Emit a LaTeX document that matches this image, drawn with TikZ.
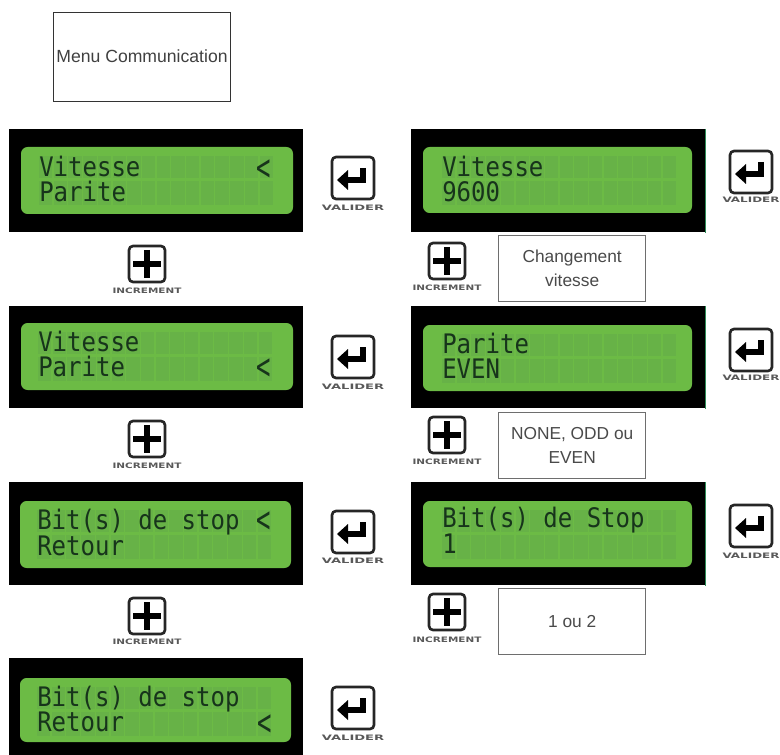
\documentclass[tikz,border=0pt]{standalone}
\usepackage{fontspec}
\setmainfont{Liberation Sans}
\newfontfamily\lcdfont{DejaVu Sans Mono}
\newfontfamily\btnfont{DejaVu Sans}
\definecolor{lcdgreen}{HTML}{6CBB45}
\definecolor{cellgreen}{HTML}{67B247}
\definecolor{lcdink}{HTML}{17341B}
\definecolor{boxgray}{HTML}{6E6E6E}
\definecolor{txtgray}{HTML}{4A4A4A}
\definecolor{edgegreen}{HTML}{2E8B57}
\tikzset{
  px/.style={x=0.75pt,y=-0.75pt},
  lcdframe/.style={fill=black,draw=none,inner sep=0pt,anchor=north west},
  lcdpanel/.style={fill=lcdgreen,draw=none,rounded corners=5pt},
  lcdtext/.style={font=\lcdfont\fontsize{18}{18}\selectfont,text=lcdink,anchor=base west,inner sep=0pt,yscale=1.12,transform shape},
  lcdcursor/.style={font=\lcdfont\fontsize{18}{18}\selectfont,text=lcdink,anchor=base west,inner sep=0pt,yscale=1.55,transform shape},
  btnframe/.style={draw=black!85,fill=white,line width=2pt,rounded corners=3pt,inner sep=0pt,anchor=center},
  btnlabel/.style={font=\btnfont\bfseries\fontsize{5.6}{6}\selectfont,text=black!65,inner sep=0pt,anchor=center,transform shape},
  notebox/.style={draw=boxgray,fill=white,line width=1pt,inner sep=0pt,anchor=north west,align=center,font=\fontsize{13}{18}\selectfont,text=txtgray},
}
\newcommand{\lcdscreen}[9]{%
  \node[lcdframe,minimum width=294*0.75pt,minimum height=#4*0.75pt] (#1) at (#2,#3) {};
  \fill[lcdpanel] (#5,#7) rectangle (#6,#8);
  \foreach \i in {0,...,15}{
    \fill[cellgreen] ({#9+\i*14.7},{#7+9}) rectangle ({#9+\i*14.7+13.4},{#7+31});
    \fill[cellgreen] ({#9+\i*14.7},{#7+34}) rectangle ({#9+\i*14.7+13.4},{#7+58});
  }
}
\newcommand{\lcdlines}[7]{%
  \node[lcdtext] (#1a) at (#2,#3) {#5};
  \node[lcdtext] (#1b) at (#2,#4) {#6};
  \if\relax\detokenize{#7}\relax\else
    \node[lcdcursor] (#1c) at (#7) {<};
  \fi
}
\newcommand{\validerbtn}[5][1.75]{%
  \node[btnframe,minimum size=42*0.75pt] (#2) at (#3,#4) {};
  \draw[black,line width=4.6pt,line join=miter] ({#3+10},{#4-10}) -- ({#3+10},{#4+2}) -- ({#3-7},{#4+2});
  \fill[black] ({#3-16},{#4+2}) -- ({#3-5},{#4-8}) -- ({#3-5},{#4+12}) -- cycle;
  \node[btnlabel,xscale=#1] (#2t) at (#3,#5) {VALIDER};
}
\newcommand{\incrementbtn}[4]{%
  \node[btnframe,minimum size=36*0.75pt] (#1) at (#2,#3) {};
  \draw[black,line width=4.6pt] ({#2-14},#3) -- ({#2+14},#3) ({#2},{#3-14}) -- ({#2},{#3+14});
  \node[btnlabel,xscale=1.4] (#1t) at (#2,#4) {INCREMENT};
}
\begin{document}
\begin{tikzpicture}[px]
\useasboundingbox (0,0) rectangle (780,755);

\node[draw=black!80,line width=0.8pt,inner sep=0pt,minimum width=177*0.75pt,minimum height=89*0.75pt,anchor=north west,font=\fontsize{13.2}{16}\selectfont,text=black!75] (menu) at (53,12) {\raisebox{1.2pt}{Menu Communication}};

% left column
\lcdscreen{sa}{9}{129}{103}{21}{293}{147}{214}{39}
\lcdlines{sa}{39}{177}{202}{Vitesse}{Parite}{256,180.5}
\lcdscreen{sb}{9}{306}{102}{21}{293}{323}{390}{38}
\lcdlines{sb}{38}{351}{376}{Vitesse}{Parite}{256,379}
\lcdscreen{sc}{9}{482}{103}{20}{291}{501}{568}{37}
\lcdlines{sc}{37}{529}{555}{Bit(s) de stop}{Retour}{256,532}
\lcdscreen{sd}{9}{658}{97}{20}{291}{678}{742}{37}
\lcdlines{sd}{37}{706}{731}{Bit(s) de stop}{Retour}{257,735}

% right column
\lcdscreen{ra}{411}{129}{103}{423}{692}{147}{213}{442}
\lcdlines{ra}{442}{177}{202}{Vitesse}{9600}{}
\lcdscreen{rb}{411}{306}{102}{423}{692}{325}{391}{442}
\lcdlines{rb}{442}{353}{378}{Parite}{EVEN}{}
\lcdscreen{rc}{411}{482}{103}{423}{692}{501}{567}{442}
\lcdlines{rc}{442}{527}{553}{Bit(s) de Stop}{1}{}
\draw[edgegreen,line width=0.6pt] (ra.north east) -- (ra.south east);
\draw[edgegreen,line width=0.6pt] (rb.north east) -- (rb.south east);
\draw[edgegreen,line width=0.6pt] (rc.north east) -- (rc.south east);

% valider buttons
\validerbtn{va}{353}{178}{208}
\validerbtn{vb}{353}{357}{387}
\validerbtn{vc}{353}{532}{561}
\validerbtn{vd}{353}{708}{738}
\validerbtn[1.6]{wa}{751}{172}{200}
\validerbtn[1.6]{wb}{751}{350}{378}
\validerbtn[1.6]{wc}{751}{526}{556}

% increment buttons
\incrementbtn{ia}{147}{264}{291}
\incrementbtn{ib}{147}{439}{466}
\incrementbtn{ic}{147}{616}{642}
\incrementbtn{ja}{447}{261}{288}
\incrementbtn{jb}{447}{435}{462}
\incrementbtn{jc}{447}{612}{640}

% note boxes
\node[notebox,minimum width=147*0.75pt,minimum height=66*0.75pt] (na) at (498,235) {Changement\\vitesse};
\node[notebox,minimum width=147*0.75pt,minimum height=66*0.75pt] (nb) at (498,412) {NONE, ODD ou\\EVEN};
\node[notebox,minimum width=147*0.75pt,minimum height=66*0.75pt] (nc) at (498,588) {1 ou 2};
\end{tikzpicture}
\end{document}
